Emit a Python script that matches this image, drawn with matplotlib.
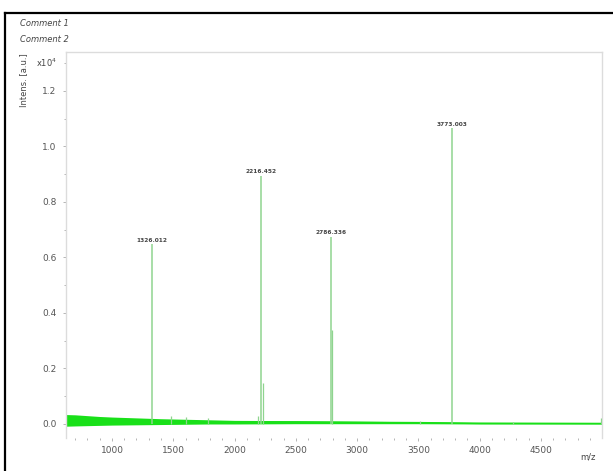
import matplotlib
matplotlib.use("Agg")
import matplotlib.pyplot as plt
from matplotlib.ticker import MultipleLocator, FormatStrFormatter

# Labelled peaks (m/z, intensity in units of 1e4 a.u.)
peak_mz = [1326.0, 2216.0, 2786.0, 3773.0]
peak_int = [0.648, 0.895, 0.675, 1.066]
peak_labels = ["1326.012", "2216.452", "2786.336", "3773.003"]

# Minor signals along the spectrum
minor_mz = [1480.0, 1600.0, 1780.0, 2190.0, 2231.0, 2798.0, 3510.0, 4270.0, 4990.0]
minor_int = [0.030, 0.026, 0.022, 0.030, 0.148, 0.340, 0.012, 0.008, 0.022]

# Baseline noise envelope
base_mz = [625, 700, 800, 900, 1000, 1200, 1400, 1600, 1800, 2000, 2500, 3000, 3500, 4000, 4500, 4998]
base_hi = [0.034, 0.033, 0.030, 0.027, 0.025, 0.022, 0.019, 0.017, 0.015, 0.013, 0.012, 0.010, 0.008, 0.005, 0.004, 0.003]
base_lo = [-0.008, -0.007, -0.006, -0.005, -0.004, -0.003, -0.002, -0.001, 0.000, 0.000, 0.001, 0.001, 0.001, 0.000, 0.000, 0.000]

x_ticks = [1000, 1500, 2000, 2500, 3000, 3500, 4000, 4500]
y_ticks = [0.0, 0.2, 0.4, 0.6, 0.8, 1.0, 1.2]

W, H = 613, 471
fig = plt.figure(figsize=(W / 100, H / 100), dpi=100)
fig.patch.set_facecolor("white")

# Frame lines around the report page
fig.add_artist(plt.Line2D([5 / W, 1.0], [1 - 13 / H, 1 - 13 / H], color="black", lw=1.6,
                          transform=fig.transFigure))
fig.add_artist(plt.Line2D([5 / W, 5 / W], [0.0, 1 - 13 / H], color="black", lw=1.6,
                          transform=fig.transFigure))

left, right, top, bottom = 66 / W, 602 / W, 1 - 52 / H, 1 - 438 / H
ax = fig.add_axes([left, bottom, right - left, top - bottom])

green_noise = "#19e019"
green_peak = "#8fd48f"

ax.fill_between(base_mz, base_lo, base_hi, color=green_noise, lw=0, zorder=2)
ax.plot(base_mz, [(a + b) / 2 for a, b in zip(base_lo, base_hi)], color=green_noise, lw=1.2, zorder=2)
ax.vlines(minor_mz, 0, minor_int, color=green_peak, lw=0.9, zorder=3)
ax.vlines(peak_mz, 0, peak_int, color=green_peak, lw=1.1, zorder=3)

for mz, val, lab in zip(peak_mz, peak_int, peak_labels):
    ax.text(mz, val + 0.005, lab, ha="center", va="bottom", fontsize=4.2,
            color="#444444", fontweight="bold", zorder=4)

ax.set_xlim(625, 4998)
ax.set_ylim(-0.0505, 1.3405)

ax.set_xticks(x_ticks)
ax.xaxis.set_minor_locator(MultipleLocator(100))
ax.set_yticks(y_ticks)
ax.yaxis.set_major_formatter(FormatStrFormatter("%.1f"))
ax.yaxis.set_minor_locator(MultipleLocator(0.1))

for s in ["left", "right", "top"]:
    ax.spines[s].set_color("#dcdcdc")
    ax.spines[s].set_linewidth(1.0)
ax.spines["bottom"].set_visible(False)

ax.tick_params(axis="both", which="major", labelsize=6.5, labelcolor="#555555",
               color="#aaaaaa", length=2, width=0.6, pad=2)
ax.tick_params(axis="both", which="minor", color="#aaaaaa", length=1.5, width=0.6)
ax.tick_params(axis="x", which="both", direction="out", pad=4)
ax.tick_params(axis="y", which="major", pad=5)

fig.text(20 / W, 1 - 24 / H, "Comment 1", fontsize=6, style="italic", color="#444444",
         ha="left", va="center")
fig.text(20 / W, 1 - 39 / H, "Comment 2", fontsize=6, style="italic", color="#444444",
         ha="left", va="center")
fig.text(24 / W, 1 - 80 / H, "Intens. [a.u.]", fontsize=6, rotation=90, color="#444444",
         ha="center", va="center")
fig.text(36 / W, 1 - 63 / H, r"x10$^4$", fontsize=6, color="#444444", ha="left", va="center")
fig.text(588 / W, 1 - 457 / H, "m/z", fontsize=6, color="#444444", ha="center", va="center")

fig.savefig("out.png", dpi=100, facecolor="white")
